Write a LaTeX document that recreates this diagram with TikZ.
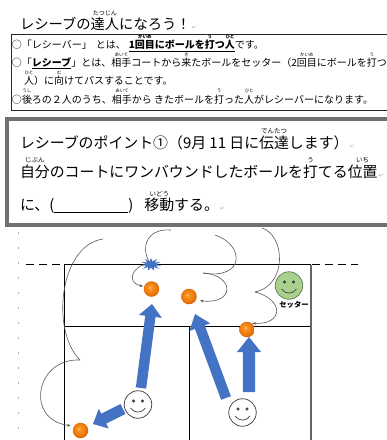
\documentclass[tikz,border=0pt]{standalone}
\usepackage{fontspec}
\setmainfont{Noto Sans CJK JP}
\newfontfamily\symfont{DejaVu Sans}
\usetikzlibrary{calc,shapes.geometric,arrows.meta}

\definecolor{arrowblue}{HTML}{4472C4}
\definecolor{ballhi}{HTML}{FFC27A}
\definecolor{ballmid}{HTML}{F8921F}
\definecolor{ballorange}{HTML}{EE7A0E}
\definecolor{balledge}{HTML}{CC5C00}
\definecolor{facegreen}{HTML}{A9D18E}
\definecolor{boxgray}{HTML}{707070}
\definecolor{markgray}{HTML}{B4B4B4}

% shiny orange ball
\pgfdeclareradialshading{orangeball}{\pgfpoint{-6bp}{6bp}}{%
  color(0bp)=(ballhi); color(6bp)=(ballmid); color(19bp)=(ballorange);
  color(29bp)=(balledge); color(50bp)=(balledge)}

% ruby (furigana) over a base text
\newsavebox\rbbase
\newcommand\rbsize{5}
\newcommand\rbraise{10pt}
\newcommand\rb[2]{\sbox\rbbase{#1}\makebox[\wd\rbbase]{\makebox[0pt]{\raisebox{\rbraise}[0pt][0pt]{\fontsize{\rbsize}{\rbsize}\selectfont #2}}}\hspace{-\wd\rbbase}\usebox\rbbase}
% paragraph return mark
\newcommand\retmark{{\symfont\color{markgray}\fontsize{6}{6}\selectfont\,↵}}

% block arrow: tail, tip, shaft half width, head half width, head length
\newcommand\blockarrow[5]{%
  \path ($(#2)!#5!(#1)$) coordinate (ba-h);
  \fill[arrowblue]
    ($(#1)!#3!90:(#2)$) -- ($(ba-h)!#3!-90:(#1)$) -- ($(ba-h)!#4!-90:(#1)$) -- (#2)
    -- ($(ba-h)!#4!90:(#1)$) -- ($(ba-h)!#3!90:(#1)$) -- ($(#1)!#3!-90:(#2)$) -- cycle;
}
% eyes and smile of a face node
\newcommand\facefeatures[2]{%
  \filldraw[draw=#2, fill=#2] ($(#1)+(-4.5,-3.5)$) circle (1.4pt) ($(#1)+(4.5,-3.5)$) circle (1.4pt);
  \draw[#2, line width=0.7pt] ($(#1)+(-7.5,3.5)$) .. controls ($(#1)+(-3.5,9)$) and ($(#1)+(3.5,9)$) .. ($(#1)+(7.5,3.5)$);
}

\tikzset{
  txt/.style={anchor=base west, inner sep=0pt, outer sep=0pt},
  court/.style={line width=0.75pt, black},
  flow/.style={line width=0.6pt, draw=black!65},
  flowtip/.style={flow, -{Stealth[length=3.4pt,width=2.8pt]}},
  ball/.style={circle, inner sep=0pt, minimum size=15.5pt, shade, shading=orangeball},
  face/.style={circle, draw=black!75, line width=0.75pt, minimum size=27.5pt, inner sep=0pt, fill=white},
  greenface/.style={face, fill=facegreen, draw=black!40!facegreen},
  burststar/.style={star, star points=11, star point ratio=2.1, fill=arrowblue, inner sep=0pt, minimum size=13pt, xscale=1.65},
}

\begin{document}
\begin{tikzpicture}[x=1pt,y=-1pt]
\useasboundingbox (0,0) rectangle (387,440);
\fill[white] (0,0) rectangle (387,440);

% ---------- title ----------
\node[txt, font=\fontsize{14.3}{14.3}\selectfont] (title) at (20,29.5)
  {\def\rbsize{6}\def\rbraise{14pt}レシーブの\rb{達人}{たつじん}になろう！\retmark};

% ---------- explanation box ----------
\draw[line width=1pt, black!85] (11,34) rectangle (400,110);
\begin{scope}[every node/.style={txt, font=\fontsize{10}{10}\selectfont}]
\node (e1) at (12,48.5) {\def\rbsize{4.5}\def\rbraise{10.5pt}○「レシーバー」\hspace{4pt}とは、\hspace{3pt}\underline{\textbf{1\rb{回目}{かいめ}にボールを\rb{打}{う}つ\rb{人}{ひと}}}です。};
\node (e2) at (12,66.5) {\def\rbsize{4.5}\def\rbraise{10.5pt}○「\underline{\textbf{レシーブ}}」とは、\rb{相手}{あいて}コートから\rb{来}{き}たボールをセッター（2\rb{回目}{かいめ}にボールを\rb{打}{う}つ};
\node (e3) at (24,84.5) {\def\rbsize{4.5}\def\rbraise{10.5pt}\rb{人}{ひと}）に\rb{向}{む}けてパスすることです。};
\node (e4) at (12,103) {\def\rbsize{4.5}\def\rbraise{10.5pt}○\rb{後}{うし}ろの２人のうち、\rb{相手}{あいて}から きたボールを\rb{打}{う}った\rb{人}{ひと}がレシーバーになります。};
\end{scope}

% ---------- point box ----------
\draw[line width=3.5pt, boxgray] (7,119) rectangle (400,225);
\begin{scope}[every node/.style={txt, font=\fontsize{14.9}{14.9}\selectfont}]
\node (p1) at (20,148) {\def\rbsize{6.5}\def\rbraise{14.5pt}レシーブのポイント①（9月 11 日に\rb{伝達}{でんたつ}します）\retmark};
\node (p2) at (20,177) {\def\rbsize{6.5}\def\rbraise{14.5pt}\rb{自分}{じぶん}のコートにワンバウンドしたボールを\rb{打}{う}てる\rb{位置}{いち}\retmark};
\node (p3) at (20,210.5) {\def\rbsize{6.5}\def\rbraise{14.5pt}に、(\underline{\hbox to 74pt{}})\hspace{11pt}\rb{移動}{いどう}する。\retmark};
\end{scope}

% ---------- paragraph marks down the margin ----------
\foreach \y in {233,248,...,428} \fill[markgray] (17.6,\y-1) rectangle (18.6,\y+1);

% ---------- court ----------
\coordinate (ctl) at (64,264.5);
\coordinate (ctr) at (311,264.5);
\coordinate (cbl) at (64,440);
\coordinate (cbr) at (311,440);
\coordinate (cml) at (64,326);
\coordinate (cmr) at (311,326);
\coordinate (cmm) at (189,326);
\coordinate (cbm) at (189,440);
\draw[court] (cbl) -- (ctl) -- (ctr);
\draw[court] (cml) -- (cmr);
\draw[court] (cmm) -- (cbm);
\draw[line width=1.2pt, black!60] (ctr) -- (cbr);
% net line
\coordinate (netl) at (26,264.5);
\coordinate (netr) at (358,264.5);
\draw[line width=1.7pt, dash pattern=on 8pt off 5pt] (netl) -- (netr);

% ---------- players and balls ----------
\node[ball] (ball1) at (151.5,289) {};
\node[ball] (ball2) at (189,296.5) {};
\node[ball] (ball3) at (247,329.5) {};
\node[ball] (ball4) at (80.5,430.5) {};

\node[greenface] (setter) at (289,285.5) {};
\facefeatures{setter}{black!75}
\node[anchor=center, inner sep=0pt, font=\fontsize{7.3}{7.3}\selectfont\bfseries] (setterlbl) at (294,304.5) {セッター};

\node[face] (pl1) at (138,404.5) {};
\facefeatures{pl1}{black!75}
\node[face] (pl2) at (242.5,412.5) {};
\facefeatures{pl2}{black!75}

% ---------- ball paths ----------
\coordinate (s1) at (103,239);
\coordinate (k1) at (80,360);
\draw[flow] (s1) .. controls (60,245) and (50,330) .. (k1);
\draw[flowtip, shorten >=3.5pt] (k1) .. controls (35,358) and (25,420) .. (ball4.146);

\coordinate (burstpos) at (151,264.5);
\coordinate (s2) at (171,230);
\draw[flow] (s2) .. controls (145,228) and (140,250) .. (burstpos);
\node[burststar] (burst) at (burstpos) {};
\draw[flowtip, shorten >=1pt] (burst.west) .. controls (128,272) and (130,284) .. (ball1.160);

\coordinate (s3) at (215,235);
\coordinate (k3) at (203,273);
\draw[flow] (s3) .. controls (245,245) and (245,280) .. (k3);
\draw[flowtip, shorten >=4pt] (k3) .. controls (235,275) and (235,305) .. (ball2.-27);

\coordinate (s4) at (262,228);
\coordinate (k4) at (255,292);
\draw[flow] (s4) .. controls (285,235) and (288,285) .. (k4);
\draw[flowtip, shorten >=0.5pt] (k4) .. controls (285,300) and (283,325) .. (ball3.52);

% ---------- movement arrows ----------
\coordinate (ma1) at (141,388);
\coordinate (mb1) at (152,304);
\blockarrow{ma1}{mb1}{5.2pt}{11.5pt}{12.5pt}
\coordinate (ma2) at (226,398);
\coordinate (mb2) at (195,314);
\blockarrow{ma2}{mb2}{5.2pt}{11pt}{14pt}
\coordinate (ma3) at (249,392);
\coordinate (mb3) at (249,337);
\blockarrow{ma3}{mb3}{6.2pt}{12pt}{15pt}
\coordinate (ma4) at (123,409);
\coordinate (mb4) at (93,424);
\blockarrow{ma4}{mb4}{5.5pt}{11pt}{12pt}
\end{tikzpicture}
\end{document}
